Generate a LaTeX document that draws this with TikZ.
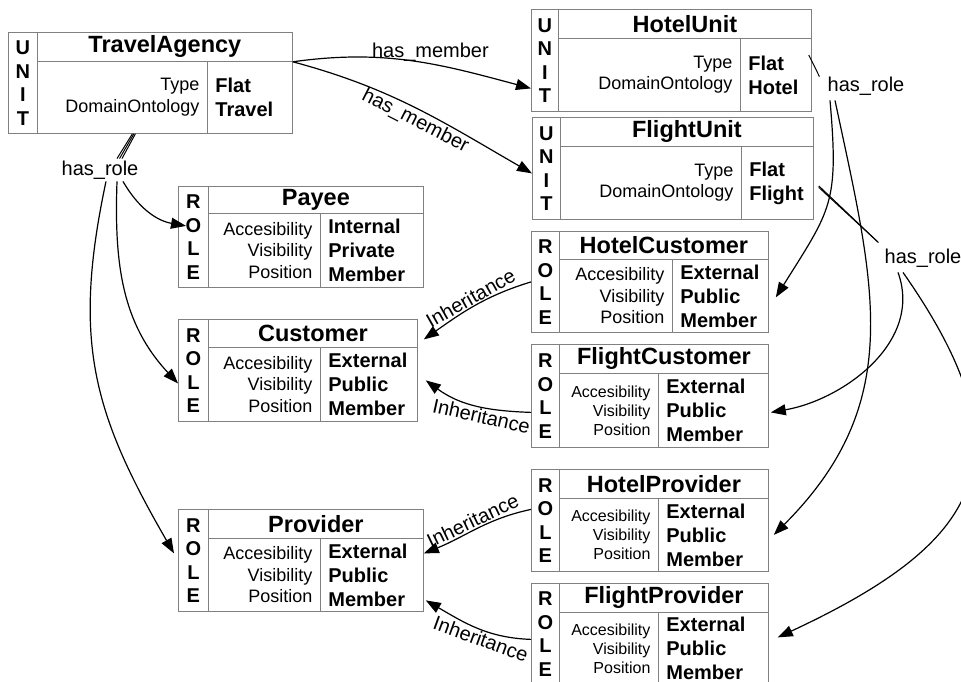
\documentclass[tikz,border=0pt]{standalone}
\usepackage{fontspec}
\setmainfont{Liberation Sans}
\usetikzlibrary{arrows.meta}
\hyphenpenalty=10000

\begin{document}
\begin{tikzpicture}[x=1pt, y=1pt,
    cell/.style={draw=gray, line width=0.8pt, inner sep=0pt, anchor=north west},
    tag/.style={cell, font=\fontsize{20}{23.5}\selectfont\bfseries, align=center},
    title/.style={cell, font=\fontsize{23.5}{26}\selectfont\bfseries},
    keys/.style={cell, font=\fontsize{18}{21.5}\selectfont, align=right, inner xsep=8pt},
    smallkeys/.style={keys, font=\fontsize{16}{19}\selectfont},
    vals/.style={cell, font=\fontsize{20}{24}\selectfont\bfseries, align=left, inner xsep=8pt},
    rel/.style={font=\fontsize{20}{24}\selectfont, inner sep=2pt},
    inh/.style={font=\fontsize{20}{24}\selectfont, inner sep=1pt},
    link/.style={-{Triangle[length=15pt,width=11pt]}, line width=1.2pt},
    tie/.style={line width=1pt}]
\useasboundingbox (0,0) rectangle (961,-682);

% Units
\node (ta-tag) [tag, minimum width=29pt, minimum height=101pt] at (8,-32) {U\\N\\I\\T};
\node (ta-title) [title, minimum width=255pt, minimum height=29pt] at (37,-32) {TravelAgency};
\node (ta-keys) [keys, text width=154pt, minimum height=72pt] at (37,-61) {Type\\DomainOntology};
\node (ta-vals) [vals, text width=69pt, minimum height=72pt] at (207,-61) {Flat\\Travel};

\node (hu-tag) [tag, minimum width=27pt, minimum height=102pt] at (531,-9) {U\\N\\I\\T};
\node (hu-title) [title, minimum width=253pt, minimum height=29pt] at (558,-9) {HotelUnit};
\node (hu-keys) [keys, text width=166pt, minimum height=73pt] at (558,-38) {Type\\DomainOntology};
\node (hu-vals) [vals, text width=55pt, minimum height=73pt] at (740,-38) {Flat\\Hotel};

\node (fu-tag) [tag, minimum width=28pt, minimum height=102pt] at (532,-117) {U\\N\\I\\T};
\node (fu-title) [title, minimum width=253pt, minimum height=29pt] at (560,-117) {FlightUnit};
\node (fu-keys) [keys, text width=165pt, minimum height=73pt] at (560,-146) {Type\\DomainOntology};
\node (fu-vals) [vals, text width=56pt, minimum height=73pt] at (741,-146) {Flat\\Flight};

% Roles
\node (pay-tag) [tag, minimum width=30pt, minimum height=101pt] at (178,-186) {R\\O\\L\\E};
\node (pay-title) [title, minimum width=215pt, minimum height=27pt] at (208,-186) {Payee};
\node (pay-keys) [keys, text width=96pt, minimum height=74pt] at (208,-213) {Accesibility\\Visibility\\Position};
\node (pay-vals) [vals, text width=87pt, minimum height=74pt] at (320,-213) {Internal\\Private\\Member};

\node (cus-tag) [tag, minimum width=30pt, minimum height=102pt] at (178,-319) {R\\O\\L\\E};
\node (cus-title) [title, minimum width=209pt, minimum height=28pt] at (208,-319) {Customer};
\node (cus-keys) [keys, text width=96pt, minimum height=74pt] at (208,-347) {Accesibility\\Visibility\\Position};
\node (cus-vals) [vals, text width=81pt, minimum height=74pt] at (320,-347) {External\\Public\\Member};

\node (pro-tag) [tag, minimum width=30pt, minimum height=102pt] at (178,-509) {R\\O\\L\\E};
\node (pro-title) [title, minimum width=215pt, minimum height=29pt] at (208,-509) {Provider};
\node (pro-keys) [keys, text width=96pt, minimum height=73pt] at (208,-538) {Accesibility\\Visibility\\Position};
\node (pro-vals) [vals, text width=87pt, minimum height=73pt] at (320,-538) {External\\Public\\Member};

\node (hc-tag) [tag, minimum width=28pt, minimum height=101pt] at (531,-231) {R\\O\\L\\E};
\node (hc-title) [title, minimum width=209pt, minimum height=28pt] at (559,-231) {HotelCustomer};
\node (hc-keys) [keys, text width=97pt, minimum height=73pt] at (559,-259) {Accesibility\\Visibility\\Position};
\node (hc-vals) [vals, text width=80pt, minimum height=73pt] at (672,-259) {External\\Public\\Member};

\node (fc-tag) [tag, minimum width=28pt, minimum height=103pt] at (531,-344) {R\\O\\L\\E};
\node (fc-title) [title, minimum width=209pt, minimum height=29pt] at (559,-344) {FlightCustomer};
\node (fc-keys) [smallkeys, text width=83pt, minimum height=74pt] at (559,-373) {Accesibility\\Visibility\\Position};
\node (fc-vals) [vals, text width=94pt, minimum height=74pt] at (658,-373) {External\\Public\\Member};

\node (hp-tag) [tag, minimum width=28pt, minimum height=102pt] at (531,-469) {R\\O\\L\\E};
\node (hp-title) [title, minimum width=209pt, minimum height=29pt] at (559,-469) {HotelProvider};
\node (hp-keys) [smallkeys, text width=83pt, minimum height=73pt] at (559,-498) {Accesibility\\Visibility\\Position};
\node (hp-vals) [vals, text width=94pt, minimum height=73pt] at (658,-498) {External\\Public\\Member};

\node (fp-tag) [tag, minimum width=28pt, minimum height=101pt] at (531,-583) {R\\O\\L\\E};
\node (fp-title) [title, minimum width=209pt, minimum height=29pt] at (559,-583) {FlightProvider};
\node (fp-keys) [smallkeys, text width=83pt, minimum height=72pt] at (559,-612) {Accesibility\\Visibility\\Position};
\node (fp-vals) [vals, text width=94pt, minimum height=72pt] at (658,-612) {External\\Public\\Member};

% has_role labels
\node (ta-role) [rel] at (100,-170) {has\_role};
\node (hu-role) [rel] at (866,-86) {has\_role};
\node (fu-role) [rel] at (923,-258) {has\_role};

% has_member
\draw[link] (ta-title.south east) to[out=8, in=165] node[rel, above, pos=0.58] {has\_member} ([yshift=-28pt]hu-tag.west);
\draw[link] (ta-title.south east) to[out=-15, in=150] node[rel, below, sloped, pos=0.52] {has\_member} ([yshift=-5pt]fu-tag.west);

% has_role
\foreach \a/\b in {10/17, 11.5/19.5, 13/22}
  \draw[tie] ([xshift=\a pt]ta-keys.south) -- ([xshift=\b pt]ta-role.north);
\draw[link] ([xshift=23pt]ta-role.south) to[out=-60, in=170] ([shift={(8pt,11pt)}]pay-tag.west);
\draw[link] ([xshift=17pt]ta-role.south) to[out=-92, in=133] ([yshift=-13pt]cus-tag.west);
\draw[link] ([xshift=6pt]ta-role.south) to[out=-102, in=120, looseness=1.1] ([shift={(-4pt,7pt)}]pro-tag.west);

\draw[tie] ([shift={(-3pt,-17pt)}]hu-vals.north east) -- ([shift={(-6pt,-2pt)}]hu-role.north west);
\draw[link] ([shift={(-36pt,-3pt)}]hu-role.south) to[out=-85, in=58, looseness=1.3] ([shift={(7pt,-1.5pt)}]hc-vals.east);
\draw[link] ([shift={(-31pt,-3pt)}]hu-role.south) to[out=-78, in=45, looseness=1.1] ([xshift=5pt]hp-vals.east);

\draw[tie] ([shift={(5pt,-3pt)}]fu-vals.east) -- ([shift={(-5pt,5pt)}]fu-role.north west);
\draw[tie] ([shift={(5pt,-4.5pt)}]fu-vals.east) -- ([shift={(-4pt,4pt)}]fu-role.north west);
\draw[link] ([shift={(-25pt,-3pt)}]fu-role.south) to[out=-70, in=10] ([shift={(2pt,-2pt)}]fc-vals.east);
\draw[link] ([shift={(-20pt,-3pt)}]fu-role.south) to[out=-55, in=25, looseness=1.5] ([shift={(9pt,11pt)}]fp-vals.east);

% Inheritance
\draw[link] (hc-tag.west) to[out=197, in=35] node[inh, above, sloped] {Inheritance} ([shift={(6pt,-6pt)}]cus-title.east);
\draw[link] ([yshift=-16.5pt]fc-tag.west) to[out=178, in=-36] node[inh, below, sloped, pos=0.42] {Inheritance} ([shift={(8pt,4pt)}]cus-vals.east);
\draw[link] ([yshift=11pt]hp-tag.west) to[out=192, in=22] node[inh, above, sloped] {Inheritance} ([yshift=21.5pt]pro-vals.east);
\draw[link] ([yshift=-5.5pt]fp-tag.west) to[out=178, in=-30] node[inh, below, sloped, pos=0.42] {Inheritance} ([shift={(2pt,-25.5pt)}]pro-vals.east);

\end{tikzpicture}
\end{document}
